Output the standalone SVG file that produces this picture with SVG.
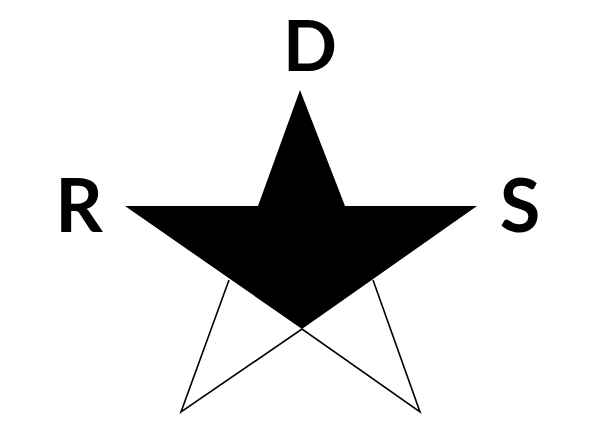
<svg xmlns="http://www.w3.org/2000/svg" width="590" height="425" viewBox="0 0 590 425">
<style>
.lbl{font-family:Lato,"Liberation Sans",Arial,sans-serif;font-weight:bold;font-size:74px;fill:#000;text-anchor:middle}
.ln{stroke:#000;stroke-width:1.6;fill:none;stroke-linejoin:miter}
</style>
<rect width="590" height="425" fill="#fff"/>
<g id="star">
<polygon points="300,90 345,206 477,206 302,329 125,206 258,206" fill="#000"/>
</g>
<g id="connectors">
<polyline class="ln" points="229,280 181,412 302,329 420,412 373,280"/>
</g>
<g id="D"><text class="lbl" x="310" y="71" style="font-size:71px">D</text></g>
<g id="R"><text class="lbl" x="79" y="232">R</text></g>
<g id="S"><text class="lbl" x="520" y="232">S</text></g>
</svg>
